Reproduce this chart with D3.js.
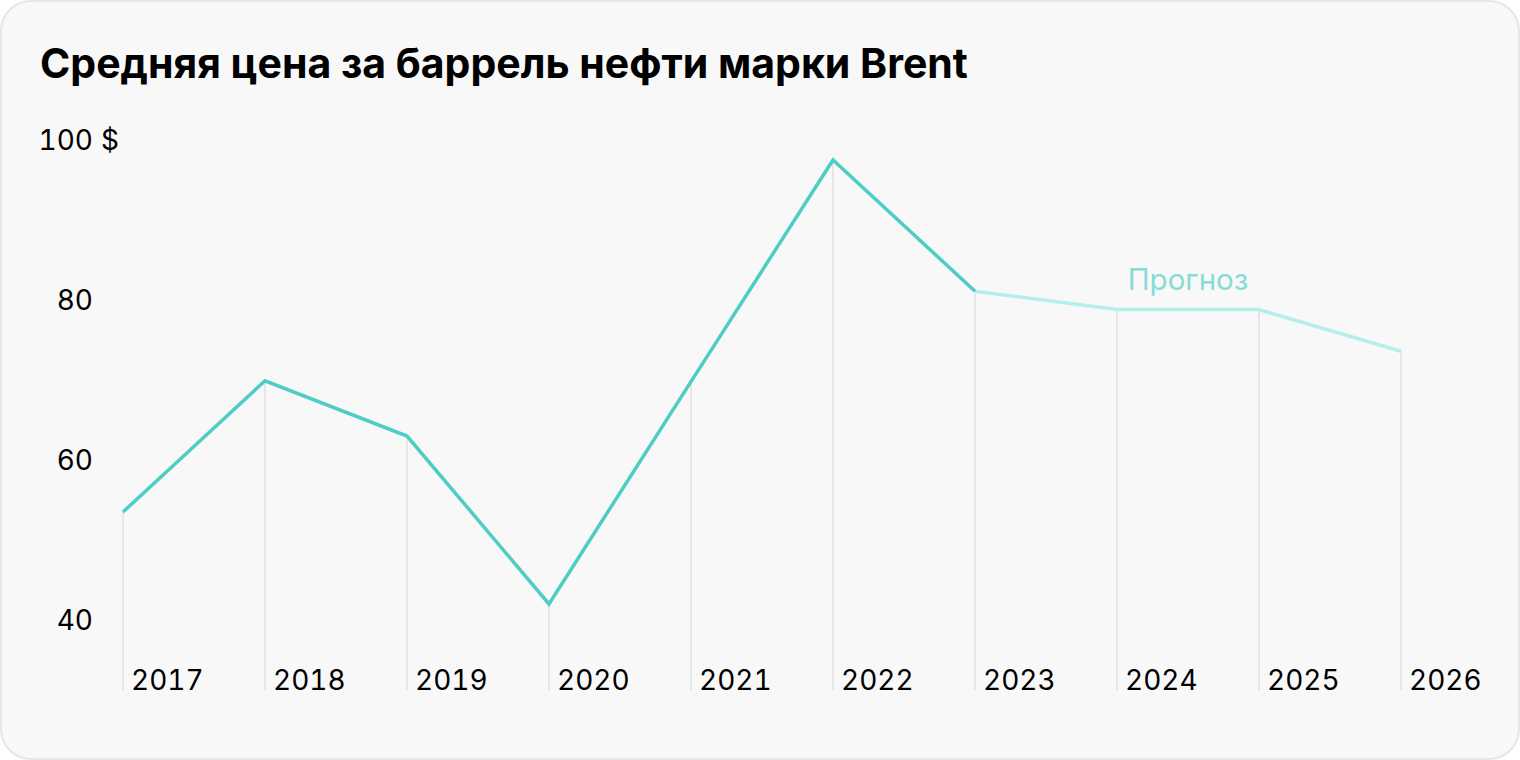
<!DOCTYPE html>
<html><head><meta charset="utf-8">
<script src="https://cdn.jsdelivr.net/npm/d3@7"></script>
<style>
html,body{margin:0;padding:0;background:#fff;}
svg{display:block;font-family:Inter,"Noto Sans",sans-serif;}
.num{font-variant-numeric:tabular-nums;font-feature-settings:"tnum" 1;}
</style></head>
<body>
<svg id="c" width="1520" height="760"></svg>
<script>
const years = [2017,2018,2019,2020,2021,2022,2023,2024,2025,2026];
const prices = [53.5,69.9,63.0,42.0,69.8,97.5,81.1,78.8,78.8,73.6];
const forecastFrom = 2023;
const yTicks = [40,60,80,100];
const title = "Средняя цена за баррель нефти марки Brent";
const forecastLabel = "Прогноз";

const svg = d3.select("#c");
svg.append("rect").attr("x",1).attr("y",1).attr("width",1518).attr("height",758)
  .attr("rx",30).attr("fill","#f8f8f8").attr("stroke","#e6e6e6").attr("stroke-width",2);

svg.append("text").attr("x",40).attr("y",78).attr("font-size",41).attr("font-weight",700)
  .attr("fill","#000").text(title);

const x = d3.scalePoint().domain(years).range([123,1401]);
const y = d3.scaleLinear().domain([40,100]).range([620,140]);
const baseY = 690;

const data = years.map((yr,i)=>({yr, v:prices[i]}));

// vertical drop lines
svg.append("g").selectAll("line").data(data).join("line")
  .attr("x1",d=>x(d.yr)).attr("x2",d=>x(d.yr))
  .attr("y1",d=>y(d.v)).attr("y2",baseY)
  .attr("stroke","#e0e0e0").attr("stroke-width",1.5);

// x labels
svg.append("g").selectAll("text").data(years).join("text").attr("class","num")
  .attr("x",d=>x(d)+8).attr("y",baseY).attr("font-size",28).attr("fill","#000")
  .text(d=>d);

// y labels
const yl = svg.append("g");
yl.selectAll("text").data(yTicks).join("text").attr("class","num")
  .attr("x",93).attr("y",d=>y(d)).attr("dy","0.35em").attr("text-anchor","end")
  .attr("font-size",28).attr("fill","#000").text(d=>d);
yl.append("text").attr("x",101).attr("y",y(100)).attr("dy","0.35em")
  .attr("font-size",28).attr("fill","#000").text("$");

const line = d3.line().x(d=>x(d.yr)).y(d=>y(d.v));
const hist = data.filter(d=>d.yr<=forecastFrom);
const fc = data.filter(d=>d.yr>=forecastFrom);
svg.append("path").attr("d",line(fc)).attr("fill","none")
  .attr("stroke","#b4efeb").attr("stroke-width",3.5).attr("stroke-linejoin","round");
svg.append("path").attr("d",line(hist)).attr("fill","none")
  .attr("stroke","#4ecdc4").attr("stroke-width",3.5).attr("stroke-linejoin","miter");

svg.append("text").attr("x",(x(2024)+x(2025))/2).attr("y",y(fc[1].v)-20)
  .attr("text-anchor","middle").attr("font-size",29.5).attr("fill","#86dcd6").text(forecastLabel);
</script>
</body></html>
